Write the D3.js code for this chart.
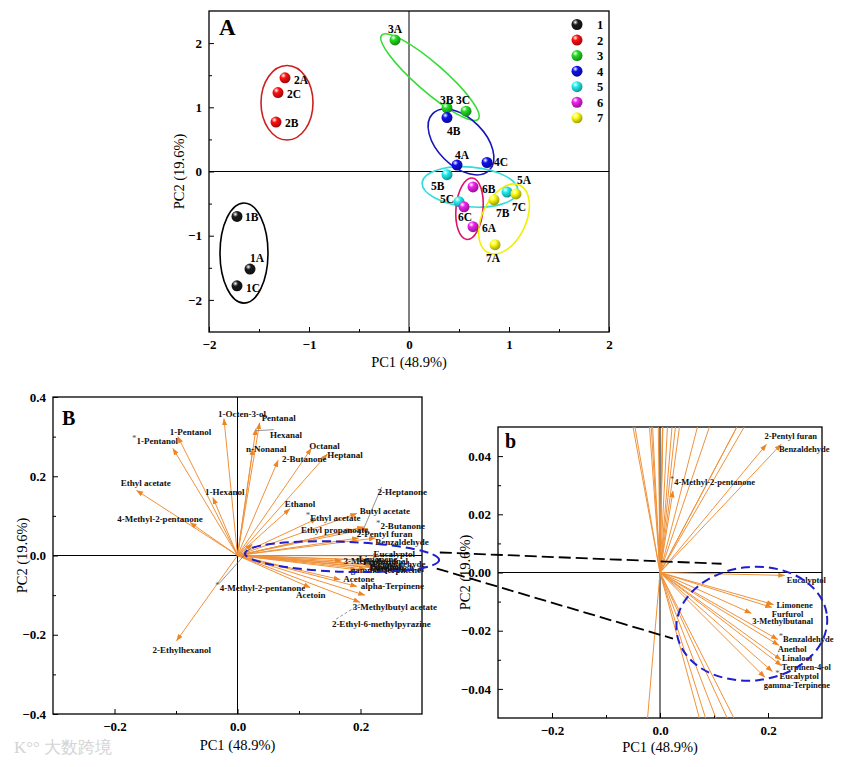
<!DOCTYPE html>
<html>
<head>
<meta charset="utf-8">
<script src="https://cdn.jsdelivr.net/npm/d3@7"></script>
<style>
  body { margin: 0; background: #fff; }
  text { font-family: "Liberation Serif", "Times New Roman", serif; }
</style>
</head>
<body>
<svg id="chart" width="865" height="767"></svg>
<script>
// ---------- panel A : sample scores ----------
var sampleNames = ["1A","1B","1C","2A","2B","2C","3A","3B","3C","4A","4B","4C","5A","5B","5C","6A","6B","6C","7A","7B","7C"];
var samplePC1 = [-1.59,-1.72,-1.72,-1.24,-1.33,-1.31,-0.14,0.38,0.57,0.48,0.38,0.78,0.98,0.38,0.50,0.64,0.64,0.55,0.86,0.85,1.07];
var samplePC2 = [-1.52,-0.70,-1.78,1.46,0.77,1.23,2.05,0.99,0.94,0.10,0.84,0.14,-0.32,-0.05,-0.47,-0.86,-0.24,-0.55,-1.14,-0.44,-0.35];
var groupIds = ["1","2","3","4","5","6","7"];
// confidence ellipses per group (centre, radii in data units, tilt in degrees)
var ellipseCx = [-1.65,-1.22,0.21,0.52,0.61,0.605,0.95];
var ellipseCy = [-1.27,1.07,1.47,0.46,-0.24,-0.58,-0.74];
var ellipseRx = [0.24,0.26,0.64,0.40,0.48,0.135,0.22];
var ellipseRy = [0.78,0.58,0.22,0.37,0.31,0.48,0.58];
var ellipseTilt = [0,0,41,45,5,5,25];
var axisATicks = [-2,-1,0,1,2];

// ---------- panels B / b : loadings ----------
var loadingNames = ["*1-Pentanol","1-Pentanol","1-Octen-3-ol","1-Hexanol","Ethyl acetate","4-Methyl-2-pentanone",
  "Pentanal","Hexanal","n-Nonanal","2-Butanone","Octanal","Heptanal","Ethanol","*Ethyl acetate","Butyl acetate",
  "2-Heptanone","*2-Butanone","Ethyl propanoate","2-Pentyl furan","Benzaldehyde","*4-Methyl-2-pentanone",
  "Eucalyptol","Limonene","Furfurol","3-Methylbutanal","*Benzaldehyde","Anethol","Linalool","Terpinen-4-ol",
  "*Eucalyptol","gamma-Terpinene","Acetone","alpha-Terpinene","Acetoin","3-Methylbutyl acetate",
  "2-Ethyl-6-methylpyrazine","2-Ethylhexanol"];
var loadingPC1 = [-0.105,-0.097,-0.022,-0.040,-0.164,-0.077,0.036,0.030,0.025,0.066,0.120,0.146,0.085,0.129,0.194,
  0.205,0.212,0.188,0.197,0.224,0.024,0.231,0.210,0.207,0.169,0.218,0.220,0.224,0.225,0.208,0.194,0.167,0.194,
  0.118,0.207,0.199,-0.099];
var loadingPC2 = [0.270,0.300,0.345,0.146,0.164,0.083,0.335,0.320,0.270,0.240,0.270,0.256,0.118,0.093,0.106,
  0.072,0.068,0.066,0.044,0.044,0.028,-0.001,-0.011,-0.012,-0.014,-0.023,-0.025,-0.030,-0.032,-0.034,-0.036,
  -0.061,-0.078,-0.081,-0.100,-0.118,-0.215];
var axisBXTicks = [-0.2,0,0.2];
var axisBYTicks = [-0.4,-0.2,0,0.2,0.4];
var axisSmallYTicks = [-0.04,-0.02,0,0.02,0.04];

// label placement (pixels from the arrow head; third flag = leader line)
var scoreLabelOffset = {"1A":[0,-7],"1B":[8,5],"1C":[9,6],"2A":[9,6],"2B":[9,5],"2C":[9,5],"3A":[-7,-7],
  "3B":[-7,-4],"3C":[-10,-7],"4A":[-2,-6],"4B":[0,17],"4C":[7,3],"5A":[10,-8],"5B":[-16,15],"5C":[-19,1],
  "6A":[9,5],"6B":[9,6],"6C":[-6,14],"7A":[-9,17],"7B":[2,17],"7C":[-4,17]};
var labelOffsetB = {"*1-Pentanol":[-41,-5],"1-Pentanol":[-8,-2],"1-Octen-3-ol":[-6,-2],"1-Hexanol":[-8,-3],
  "Ethyl acetate":[-16,-5],"4-Methyl-2-pentanone":[-73,-1],"Pentanal":[2,-2],"Hexanal":[14,9,1],
  "n-Nonanal":[-7,3],"2-Butanone":[4,2],"Octanal":[-2,0],"Heptanal":[0,4],"Ethanol":[-5,-2],
  "*Ethyl acetate":[-11,2],"Butyl acetate":[3,1],"2-Heptanone":[14,-32,1],"*2-Butanone":[8,0],
  "Ethyl propanoate":[-52,4],"2-Pentyl furan":[-2,-1],"Benzaldehyde":[0,7],"*4-Methyl-2-pentanone":[-37,47,1],
  "Eucalyptol":[-6,1],"Limonene":[-8,2],"Furfurol":[-2,5],"3-Methylbutanal":[2,3],"*Benzaldehyde":[-4,2],
  "Anethol":[-2,4],"Linalool":[-6,3],"Terpinen-4-ol":[-4,4],"*Eucalyptol":[0,2],"gamma-Terpinene":[-6,3],
  "Acetone":[3,2],"alpha-Terpinene":[4,3],"Acetoin":[-14,10],"3-Methylbutyl acetate":[-12,15],
  "2-Ethyl-6-methylpyrazine":[-28,25,2],"2-Ethylhexanol":[-24,12]};
var labelOffsetSmall = {"2-Pentyl furan":[-2,-5],"Benzaldehyde":[-2,8],"*4-Methyl-2-pentanone":[-3,-6],
  "Eucalyptol":[2,8],"Limonene":[3,3],"Furfurol":[0,10],"3-Methylbutanal":[1,11],"*Benzaldehyde":[1,3],
  "Anethol":[-1,7],"Linalool":[1,1],"Terpinen-4-ol":[0,4],"*Eucalyptol":[3,8],"gamma-Terpinene":[-1,11]};

var groupColors = ["#1a1a1a","#ff1010","#22dd22","#1010ee","#22eeee","#ee22ee","#ffff10"];
var ellipseColors = ["#000000","#cc1f1f","#33dd33","#1515b5","#33dddd","#e0106a","#f0f000"];
var orange = "#F0923A";

var svg = d3.select("#chart");
var defs = svg.append("defs");
groupColors.forEach(function (c, i) {
  var g = defs.append("radialGradient").attr("id", "ball" + i)
    .attr("cx", "35%").attr("cy", "30%").attr("r", "70%");
  g.append("stop").attr("offset", "0%").attr("stop-color", "#ffffff");
  g.append("stop").attr("offset", "35%").attr("stop-color", c);
  g.append("stop").attr("offset", "100%").attr("stop-color", d3.color(c).darker(1.3));
});
defs.append("marker").attr("id", "head").attr("viewBox", "0 -3 7 6")
  .attr("refX", 6.5).attr("refY", 0).attr("markerWidth", 7).attr("markerHeight", 6)
  .attr("markerUnits", "userSpaceOnUse").attr("orient", "auto")
  .append("path").attr("d", "M0,-2.6L7,0L0,2.6Z").attr("fill", "#EC8526");

// shared frame + inward ticks
function frame(g, x, y, xt, yt, xMinor, yMinor, fmtX, fmtY, fs) {
  var x0 = x.range()[0], x1 = x.range()[1], y0 = y.range()[1], y1 = y.range()[0];
  var ax = g.append("g").attr("transform", "translate(0," + y1 + ")")
    .call(d3.axisBottom(x).tickValues(xt).tickFormat(fmtX).tickSizeInner(-5).tickSizeOuter(0).tickPadding(8));
  g.append("g").attr("transform", "translate(0," + y1 + ")")
    .call(d3.axisBottom(x).tickValues(xMinor).tickFormat("").tickSizeInner(-3).tickSizeOuter(0));
  var ay = g.append("g").attr("transform", "translate(" + x0 + ",0)")
    .call(d3.axisLeft(y).tickValues(yt).tickFormat(fmtY).tickSizeInner(-5).tickSizeOuter(0).tickPadding(7));
  g.append("g").attr("transform", "translate(" + x0 + ",0)")
    .call(d3.axisLeft(y).tickValues(yMinor).tickFormat("").tickSizeInner(-3).tickSizeOuter(0));
  g.selectAll(".domain").remove();
  g.selectAll(".tick line").attr("stroke", "#000").attr("stroke-width", 1);
  g.selectAll(".tick text").attr("font-family", '"Liberation Serif",serif')
    .attr("font-weight", "bold").attr("font-size", fs).attr("fill", "#000");
  g.append("rect").attr("x", x0).attr("y", y0).attr("width", x1 - x0).attr("height", y1 - y0)
    .attr("fill", "none").attr("stroke", "#000").attr("stroke-width", 1.3);
  g.append("line").attr("x1", x(0)).attr("x2", x(0)).attr("y1", y0).attr("y2", y1)
    .attr("stroke", "#000").attr("stroke-width", 1);
  g.append("line").attr("x1", x0).attr("x2", x1).attr("y1", y(0)).attr("y2", y(0))
    .attr("stroke", "#000").attr("stroke-width", 1);
}

function axisTitles(g, cx, by, lx, cy, fs) {
  g.append("text").attr("x", cx).attr("y", by).attr("text-anchor", "middle")
    .attr("font-size", fs).text("PC1 (48.9%)");
  g.append("text").attr("transform", "translate(" + lx + "," + cy + ") rotate(-90)")
    .attr("text-anchor", "middle").attr("font-size", fs).text("PC2 (19.6%)");
}

function starLabel(sel, name) {
  if (name.charAt(0) === "*") {
    sel.append("tspan").attr("fill", "#555").attr("font-weight", "normal").attr("dy", -3).text("*");
    sel.append("tspan").attr("dy", 3).text(name.slice(1));
  } else {
    sel.text(name);
  }
}

// ================= panel A =================
var xA = d3.scaleLinear().domain([-2, 2]).range([209, 609]);
var yA = d3.scaleLinear().domain([-2.5, 2.5]).range([332, 11]);
var gA = svg.append("g");
frame(gA, xA, yA, axisATicks, axisATicks, [-1.5,-0.5,0.5,1.5], [-1.5,-0.5,0.5,1.5],
  d3.format("d"), d3.format("d"), 13);
axisTitles(gA, xA(0), 367, 184, yA(0), 14.5);
gA.append("text").attr("x", 219).attr("y", 35).attr("font-size", 23).attr("font-weight", "bold").text("A");

groupIds.forEach(function (gid, i) {
  var cx = xA(ellipseCx[i]), cy = yA(ellipseCy[i]);
  var rx = xA(ellipseCx[i] + ellipseRx[i]) - cx, ry = cy - yA(ellipseCy[i] + ellipseRy[i]);
  gA.append("ellipse").attr("cx", 0).attr("cy", 0).attr("rx", rx).attr("ry", ry)
    .attr("transform", "translate(" + cx + "," + cy + ") rotate(" + ellipseTilt[i] + ")")
    .attr("fill", "none").attr("stroke", ellipseColors[i]).attr("stroke-width", 1.6);
});

sampleNames.forEach(function (s, i) {
  var gi = groupIds.indexOf(s.charAt(0));
  var px = xA(samplePC1[i]), py = yA(samplePC2[i]);
  gA.append("circle").attr("cx", px).attr("cy", py).attr("r", 5.5).attr("fill", "url(#ball" + gi + ")");
  var o = scoreLabelOffset[s];
  gA.append("text").attr("x", px + o[0]).attr("y", py + o[1]).attr("font-size", 11.5)
    .attr("font-weight", "bold").text(s);
});

groupIds.forEach(function (gid, i) {
  var ly = 24.5 + i * 15.55;
  gA.append("circle").attr("cx", 577).attr("cy", ly).attr("r", 5.5).attr("fill", "url(#ball" + i + ")");
  gA.append("text").attr("x", 600).attr("y", ly + 4.5).attr("text-anchor", "middle")
    .attr("font-size", 12.5).attr("font-weight", "bold").text(gid);
});

// ================= loadings drawing =================
function drawLoadings(g, x, y, offsets, fs, clipId) {
  var clip = defs.append("clipPath").attr("id", clipId);
  clip.append("rect").attr("x", x.range()[0]).attr("y", y.range()[1])
    .attr("width", x.range()[1] - x.range()[0]).attr("height", y.range()[0] - y.range()[1]);
  var arrows = g.append("g").attr("clip-path", "url(#" + clipId + ")");
  loadingNames.forEach(function (n, i) {
    arrows.append("line").attr("x1", x(0)).attr("y1", y(0))
      .attr("x2", x(loadingPC1[i])).attr("y2", y(loadingPC2[i]))
      .attr("stroke", orange).attr("stroke-width", 1).attr("marker-end", "url(#head)");
  });
  loadingNames.forEach(function (n, i) {
    var o = offsets[n];
    if (!o) return;
    var hx = x(loadingPC1[i]), hy = y(loadingPC2[i]);
    var tx = hx + o[0], ty = hy + o[1];
    if (o[2]) {
      g.append("line").attr("x1", hx).attr("y1", hy + 2).attr("x2", tx + 4).attr("y2", ty - 8)
        .attr("stroke", "#666").attr("stroke-width", 0.7)
        .attr("stroke-dasharray", o[2] === 2 ? "3,2" : null);
    }
    var t = g.append("text").attr("x", tx).attr("y", ty).attr("font-size", fs)
      .attr("font-weight", "bold").attr("fill", "#111");
    starLabel(t, n);
  });
}

// ================= panel B =================
var xB = d3.scaleLinear().domain([-0.3, 0.3]).range([53, 422]);
var yB = d3.scaleLinear().domain([-0.4, 0.4]).range([714, 397]);
var gB = svg.append("g");
frame(gB, xB, yB, axisBXTicks, axisBYTicks, [-0.1, 0.1], [-0.3,-0.1,0.1,0.3],
  d3.format(".1f"), d3.format(".1f"), 13);
axisTitles(gB, xB(0), 750, 27, yB(0), 14.5);
drawLoadings(gB, xB, yB, labelOffsetB, 9, "clipB");
gB.append("text").attr("x", 62).attr("y", 425).attr("font-size", 20).attr("font-weight", "bold").text("B");
// zoomed region marker
gB.append("ellipse").attr("rx", xB(0.158) - xB(0)).attr("ry", yB(0) - yB(0.038))
  .attr("transform", "translate(" + xB(0.17) + "," + yB(-0.003) + ") rotate(2)")
  .attr("fill", "none").attr("stroke", "#1f1fd0").attr("stroke-width", 2).attr("stroke-dasharray", "9,5");

// ================= panel b =================
var xS = d3.scaleLinear().domain([-0.3, 0.3]).range([498, 822]);
var yS = d3.scaleLinear().domain([-0.05, 0.05]).range([718, 427]);
var gS = svg.append("g");
frame(gS, xS, yS, axisBXTicks, axisSmallYTicks, [-0.1, 0.1], [-0.03,-0.01,0.01,0.03],
  d3.format(".1f"), d3.format(".2f"), 13);
axisTitles(gS, xS(0), 752, 470, yS(0), 14.5);
drawLoadings(gS, xS, yS, labelOffsetSmall, 8.5, "clipS");
gS.append("text").attr("x", 505).attr("y", 448).attr("font-size", 20).attr("font-weight", "bold").text("b");
gS.append("ellipse").attr("rx", xS(0.14) - xS(0)).attr("ry", yS(0) - yS(0.0195))
  .attr("transform", "translate(" + xS(0.17) + "," + yS(-0.0176) + ") rotate(-6)")
  .attr("fill", "none").attr("stroke", "#1f1fd0").attr("stroke-width", 2).attr("stroke-dasharray", "9,5");

// connectors between the two marked regions
svg.append("line").attr("x1", xB(0.329)).attr("y1", yB(0.0076)).attr("x2", xS(0.114)).attr("y2", yS(0.003))
  .attr("stroke", "#000").attr("stroke-width", 1.8).attr("stroke-dasharray", "12,5");
svg.append("line").attr("x1", xB(0.324)).attr("y1", yB(-0.033)).attr("x2", xS(0.024)).attr("y2", yS(-0.0227))
  .attr("stroke", "#000").attr("stroke-width", 1.8).attr("stroke-dasharray", "12,5");

// watermark
svg.append("text").attr("x", 14).attr("y", 753).attr("font-size", 17).attr("fill", "#d4d4d4")
  .attr("font-family", '"Noto Sans CJK SC",sans-serif').text("K°° 大数跨境");
</script>
</body>
</html>
